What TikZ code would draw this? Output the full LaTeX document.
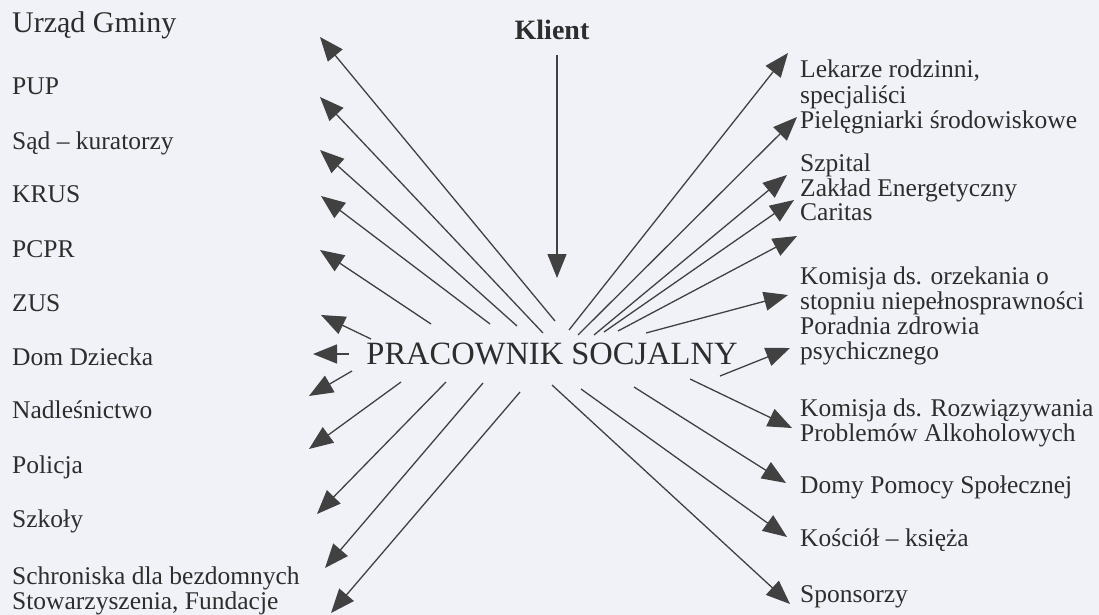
\documentclass[tikz,border=0pt]{standalone}
\usepackage{fontspec}
\setmainfont{Liberation Serif}
\usetikzlibrary{arrows.meta}
\definecolor{bg}{RGB}{240,242,247}
\definecolor{ink}{RGB}{45,45,45}
\definecolor{ln}{RGB}{65,65,65}
\newcommand{\grp}[1]{\begin{tabular}[t]{@{}l@{}}#1\end{tabular}}
\begin{document}
\begin{tikzpicture}[x=1pt,y=-1pt,
  lbl/.style={anchor=base west,inner sep=0pt,text=ink,font=\fontsize{25.5}{24.5}\selectfont},
  conn/.style={draw=ln,line width=1.3pt,-{Triangle[length=24pt,width=19pt]}}]
\fill[bg] (0,0) rectangle (1099,615);
\useasboundingbox (0,0) rectangle (1099,615);
% centre texts
\node[anchor=base,inner sep=0pt,text=ink,font=\bfseries\fontsize{28}{28}\selectfont] (kl) at (552,40) {Klient};
\node[anchor=base,inner sep=0pt,text=ink,font=\fontsize{32.5}{32}\selectfont] (pc) at (552,364) {PRACOWNIK SOCJALNY};
% left labels
\node[lbl,font=\fontsize{30}{30}\selectfont] (ug) at (12,33) {Urząd Gminy};
\node[lbl] (pup) at (12,95) {PUP};
\node[lbl] (sad) at (12,149) {Sąd – kuratorzy};
\node[lbl] (krus) at (12,202) {KRUS};
\node[lbl] (pcpr) at (12,257) {PCPR};
\node[lbl] (zus) at (12,311) {ZUS};
\node[lbl] (dd) at (12,365) {Dom Dziecka};
\node[lbl] (nadl) at (12,418) {Nadleśnictwo};
\node[lbl] (pol) at (12,473) {Policja};
\node[lbl] (szk) at (12,527) {Szkoły};
\node[lbl] (schr) at (12,584) {\grp{Schroniska dla bezdomnych\\Stowarzyszenia, Fundacje}};
% right labels
\node[lbl] (lek) at (800,78) {\grp{Lekarze rodzinni,\\specjaliści\\Pielęgniarki środowiskowe}};
\node[lbl] (szp) at (800,171) {\grp{Szpital\\Zakład Energetyczny\\Caritas}};
\node[lbl] (kom) at (800,284) {\grp{Komisja ds. orzekania o\\stopniu niepełnosprawności\\Poradnia zdrowia\\psychicznego}};
\node[lbl] (krpa) at (800,416) {\grp{Komisja ds. Rozwiązywania\\Problemów Alkoholowych}};
\node[lbl] (dps) at (800,493) {Domy Pomocy Społecznej};
\node[lbl] (kos) at (800,546) {Kościół – księża};
\node[lbl] (spon) at (800,602) {Sponsorzy};
% connector end points
\coordinate (k0) at (557,55);   \coordinate (k1) at (557,278);
\coordinate (sug) at (555,321); \coordinate (tug) at (320,37);
\coordinate (spup) at (543,333); \coordinate (tpup) at (320,97);
\coordinate (ssad) at (517,326); \coordinate (tsad) at (320,150);
\coordinate (skrus) at (490,324); \coordinate (tkrus) at (321,196);
\coordinate (spcpr) at (431,324); \coordinate (tpcpr) at (320,250);
\coordinate (szus) at (371,339); \coordinate (tzus) at (321,315);
\coordinate (sdd) at (349,354); \coordinate (tdd) at (313,354);
\coordinate (snadl) at (352,371); \coordinate (tnadl) at (309,396);
\coordinate (spol) at (401,382); \coordinate (tpol) at (309,449);
\coordinate (sszk) at (446,382); \coordinate (tszk) at (317,514);
\coordinate (sschr) at (483,383); \coordinate (tschr) at (325,568);
\coordinate (sstow) at (520,392); \coordinate (tstow) at (331,613);
\coordinate (slek) at (569,330); \coordinate (tlek) at (788,53);
\coordinate (spie) at (578,335); \coordinate (tpie) at (797,117);
\coordinate (sszp) at (594,335); \coordinate (tszp) at (787,175);
\coordinate (scar) at (604,332); \coordinate (tcar) at (794,200);
\coordinate (sx) at (618,331); \coordinate (tx) at (797,236);
\coordinate (skom) at (646,333); \coordinate (tkom) at (788,295);
\coordinate (spor) at (720,376); \coordinate (tpor) at (790,348);
\coordinate (skrpa) at (690,379); \coordinate (tkrpa) at (792,428);
\coordinate (sdps) at (634,387); \coordinate (tdps) at (786,483);
\coordinate (skos) at (581,389); \coordinate (tkos) at (787,537);
\coordinate (sspon) at (552,385); \coordinate (tspon) at (790,604);
% connectors
\draw[conn] (k0) -- (k1);
\foreach \n in {ug,pup,sad,krus,pcpr,zus,dd,nadl,pol,szk,schr,stow,lek,pie,szp,car,x,kom,por,krpa,dps,kos,spon}
  \draw[conn] (s\n) -- (t\n);
\end{tikzpicture}
\end{document}
